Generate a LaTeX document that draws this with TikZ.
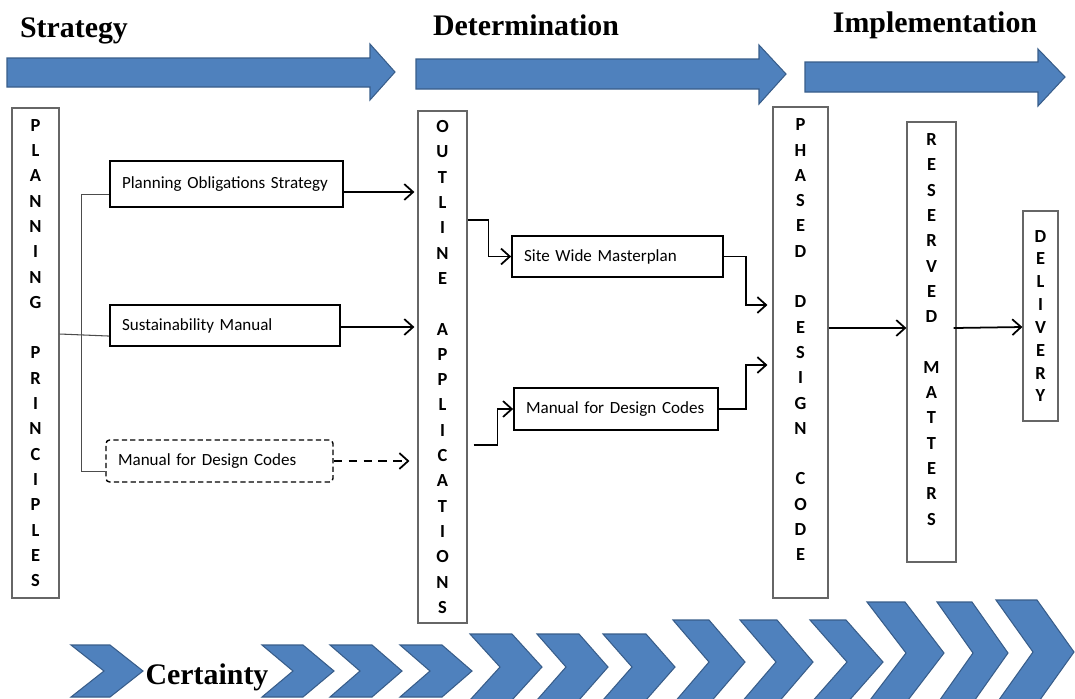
\documentclass[tikz,border=0pt]{standalone}
\usepackage{fontspec}
\usetikzlibrary{arrows.meta}
\newfontfamily\headfont{Liberation Serif}
\newfontfamily\boxfont{Carlito}
\definecolor{bandblue}{RGB}{79,129,189}
\definecolor{bandline}{RGB}{56,93,138}

\tikzset{
  band/.style={fill=bandblue, draw=bandline, line width=0.6pt},
  head/.style={font=\headfont\bfseries\fontsize{17}{20}\selectfont, anchor=base, inner sep=0pt},
  vbox/.style={draw=black!60, line width=0.7pt, align=center, inner sep=0pt,
    font=\boxfont\bfseries\fontsize{10.5}{14.4}\selectfont},
  hbox/.style={draw, line width=1pt, align=left, inner xsep=0.24cm, inner ysep=0pt,
    font=\boxfont\fontsize{9.7}{11}\selectfont},
  link/.style={draw=black!70, line width=0.6pt},
  arr/.style={line width=1pt, -{Straight Barb[length=5pt,width=9pt]}},
}

\begin{document}
\begin{tikzpicture}[x=0.02cm, y=-0.02cm]

\clip (0,0) rectangle (1075,698);

%%%%%%%%%%%%%%%%%%%%%%%%%%%%%%%%%%%%%%%%%%%%%%%%%%%%%%%%%%%%%%%%%%%%%%%%%%%%%%%%%%%
\node (strat) [head] at (74,37) {Strategy};
\node (determ) [head] at (526,35) {Determination};
\node (implem) [head] at (935,32) {Implementation};

\path [band] (7,58) -- (370,58) -- (370,44) -- (395,72) -- (370,100) -- (370,87) -- (7,87) -- cycle;
\path [band] (416,59) -- (759,59) -- (759,45) -- (786,74) -- (759,104) -- (759,89) -- (416,89) -- cycle;
\path [band] (805,62) -- (1038,62) -- (1038,49) -- (1065,77) -- (1038,106) -- (1038,92) -- (805,92) -- cycle;

%%%%%%%%%%%%%%%%%%%%%%%%%%%%%%%%%%%%%%%%%%%%%%%%%%%%%%%%%%%%%%%%%%%%%%%%%%%%%%%%%%%
\node (pp) [vbox, minimum width=0.94cm, minimum height=9.8cm] at (35.5,353)
  {P\\L\\A\\N\\N\\I\\N\\G\\~\\P\\R\\I\\N\\C\\I\\P\\L\\E\\S};
\node (oa) [vbox, minimum width=0.98cm, minimum height=10.24cm] at (442.5,367)
  {O\\U\\T\\L\\I\\N\\E\\~\\A\\P\\P\\L\\I\\C\\A\\T\\I\\O\\N\\S};
\node (pdc) [vbox, minimum width=1.1cm, minimum height=9.82cm] at (800.5,352.5)
  {P\\H\\A\\S\\E\\D\\~\\D\\E\\S\\I\\G\\N\\~\\C\\O\\D\\E\\~};
\node (rm) [vbox, minimum width=0.98cm, minimum height=8.8cm] at (931.5,342)
  {R\\E\\S\\E\\R\\V\\E\\D\\~\\M\\A\\T\\T\\E\\R\\S\\~};
\node (del) [vbox, minimum width=0.7cm, minimum height=4.2cm,
  font=\boxfont\bfseries\fontsize{10.5}{13}\selectfont] at (1040.5,316)
  {D\\E\\L\\I\\V\\E\\R\\Y};

\node (pos) [hbox, text width=4.18cm, minimum height=0.92cm] at (226.5,184) {Planning Obligations Strategy};
\node (sm) [hbox, text width=4.12cm, minimum height=0.82cm] at (225,325.5) {Sustainability Manual};
\node (mdc) [hbox, text width=4.06cm, minimum height=0.84cm, dashed, dash pattern=on 3pt off 1.8pt,
  line width=0.8pt, rounded corners=2pt] at (219.5,461) {Manual for Design Codes};
\node (swm) [hbox, text width=3.74cm, minimum height=0.82cm] at (617.5,256.5) {Site Wide Masterplan};
\node (mdc2) [hbox, text width=3.6cm, minimum height=0.84cm] at (616,409) {Manual for Design Codes};

% planning principles feed the three documents
\draw [link] (pp.east |- 0,334) -- ([yshift=-6pt]sm.west);
\draw [link] ([yshift=-6pt]pos.west) -- ++(-28,0) |- ([yshift=-5.7pt]mdc.west);

\draw [arr, shorten >=1.7pt] (pos.east |- 0,192) -- (oa.west |- 0,192);
\draw [arr, shorten >=1.7pt] (sm.east |- 0,327) -- (oa.west |- 0,327);
\draw [arr, dash pattern=on 5pt off 3.5pt, shorten >=4.5pt] (mdc.east) -- (mdc.east -| oa.west);

\draw [arr] (oa.east |- 0,220) -- ++(21,0) |- (swm.west);
\draw [arr, shorten <=3.4pt] (oa.east |- 0,445) -- ++(30,0) |- (mdc2.west);

\draw [arr, shorten >=2.8pt] (swm.east) -- ++(22,0) |- (pdc.west |- 0,305);
\draw [arr, shorten >=2.8pt] (mdc2.east) -- ++(27,0) |- (pdc.west |- 0,365);

\draw [arr] (pdc.east |- 0,328) -- (rm.west |- 0,328);
\draw [arr] ([xshift=-1.7pt]rm.east |- 0,328) -- (del.west |- 0,327);

%%%%%%%%%%%%%%%%%%%%%%%%%%%%%%%%%%%%%%%%%%%%%%%%%%%%%%%%%%%%%%%%%%%%%%%%%%%%%%%%%%%
\node (certain) [head] at (207,684) {Certainty};

\path [band] (71,645) -- ++(39,0) -- ++(33,26) -- ++(-33,26) -- ++(-39,0) -- ++(33,-26) -- cycle;
\path [band] (262,645) -- ++(41,0) -- ++(31,26) -- ++(-31,26) -- ++(-41,0) -- ++(31,-26) -- cycle;
\path [band] (330,645) -- ++(42,0) -- ++(30,26) -- ++(-30,26) -- ++(-42,0) -- ++(30,-26) -- cycle;
\path [band] (400,645) -- ++(42,0) -- ++(30,26) -- ++(-30,26) -- ++(-42,0) -- ++(30,-26) -- cycle;

\path [band] (470,634) -- ++(42,0) -- ++(30,33) -- ++(-30,33) -- ++(-42,0) -- ++(30,-33) -- cycle;
\path [band] (537,634) -- ++(42,0) -- ++(29,33) -- ++(-29,33) -- ++(-42,0) -- ++(29,-33) -- cycle;
\path [band] (603,634) -- ++(43,0) -- ++(29,33) -- ++(-29,33) -- ++(-43,0) -- ++(29,-33) -- cycle;

\path [band] (673,620) -- ++(36,0) -- ++(36,42) -- ++(-36,42) -- ++(-36,0) -- ++(36,-42) -- cycle;
\path [band] (740,620) -- ++(37,0) -- ++(36,42) -- ++(-36,42) -- ++(-37,0) -- ++(36,-42) -- cycle;
\path [band] (810,620) -- ++(36,0) -- ++(37,42) -- ++(-37,42) -- ++(-36,0) -- ++(37,-42) -- cycle;

\path [band] (867,602) -- ++(38,0) -- ++(39,51) -- ++(-39,51) -- ++(-38,0) -- ++(39,-51) -- cycle;
\path [band] (937,602) -- ++(35,0) -- ++(36,51) -- ++(-36,51) -- ++(-35,0) -- ++(36,-51) -- cycle;
\path [band] (996,600) -- ++(41,0) -- ++(37,52) -- ++(-37,52) -- ++(-41,0) -- ++(37,-52) -- cycle;

\end{tikzpicture}
\end{document}
